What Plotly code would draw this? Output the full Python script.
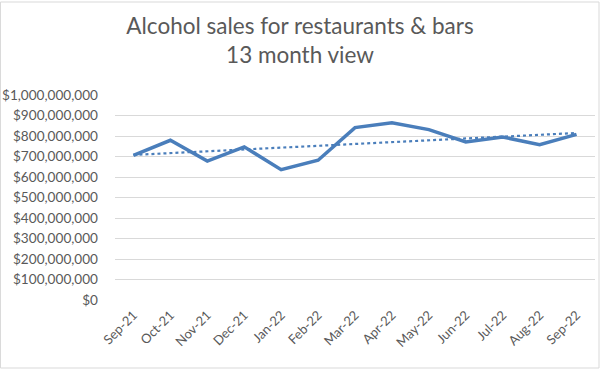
import numpy as np
import plotly.graph_objects as go

months = ["Sep-21", "Oct-21", "Nov-21", "Dec-21", "Jan-22", "Feb-22", "Mar-22",
          "Apr-22", "May-22", "Jun-22", "Jul-22", "Aug-22", "Sep-22"]
sales = [705e6, 779e6, 678e6, 747e6, 636e6, 682e6, 841e6,
         864e6, 831e6, 771e6, 795e6, 758e6, 808e6]

idx = np.arange(len(sales))
slope, intercept = np.polyfit(idx, sales, 1)
trend = slope * idx + intercept

font_family = "Lato, 'Open Sans', sans-serif"
grey = "#595959"
blue = "#4A7EBB"

fig = go.Figure()
fig.add_trace(go.Scatter(x=months, y=sales, mode="lines",
                         line=dict(color=blue, width=3.5), showlegend=False))
fig.add_trace(go.Scatter(x=months, y=trend, mode="lines",
                         line=dict(color=blue, width=2.2, dash="dot"), showlegend=False))

fig.update_layout(
    width=600, height=370,
    margin=dict(l=115, r=5, t=95, b=70),
    paper_bgcolor="white", plot_bgcolor="white",
    title=dict(text="Alcohol sales for restaurants & bars<br>13 month view",
               x=0.5, xanchor="center", xref="container",
               y=1 - 34 / 370, yanchor="top",
               font=dict(family=font_family, size=22.5, color=grey)),
    font=dict(family=font_family, size=13, color=grey),
    xaxis=dict(type="category", range=[-0.5, len(months) - 0.5], tickangle=-45,
               showgrid=False, showline=False, ticks="", automargin=False,
               ticklabelstandoff=4,
               tickfont=dict(size=13, color=grey)),
    yaxis=dict(range=[0, 1e9], dtick=1e8, tickformat="$,.0f",
               showgrid=True, gridcolor="#D9D9D9", gridwidth=1,
               zeroline=False, showline=False, ticks="", automargin=False,
               ticklabelstandoff=16,
               tickfont=dict(size=13.6, color=grey)),
    shapes=[dict(type="rect", xref="paper", yref="paper",
                 x0=-115 / 480 + 0.001, x1=1 + 4 / 480,
                 y0=-68 / 205, y1=1 + 93 / 205,
                 line=dict(color="#D9D9D9", width=1), layer="below")],
)

fig.write_html("out.html", config={"displayModeBar": False},
               post_script="document.body.style.margin='0';document.body.style.overflow='hidden';")
